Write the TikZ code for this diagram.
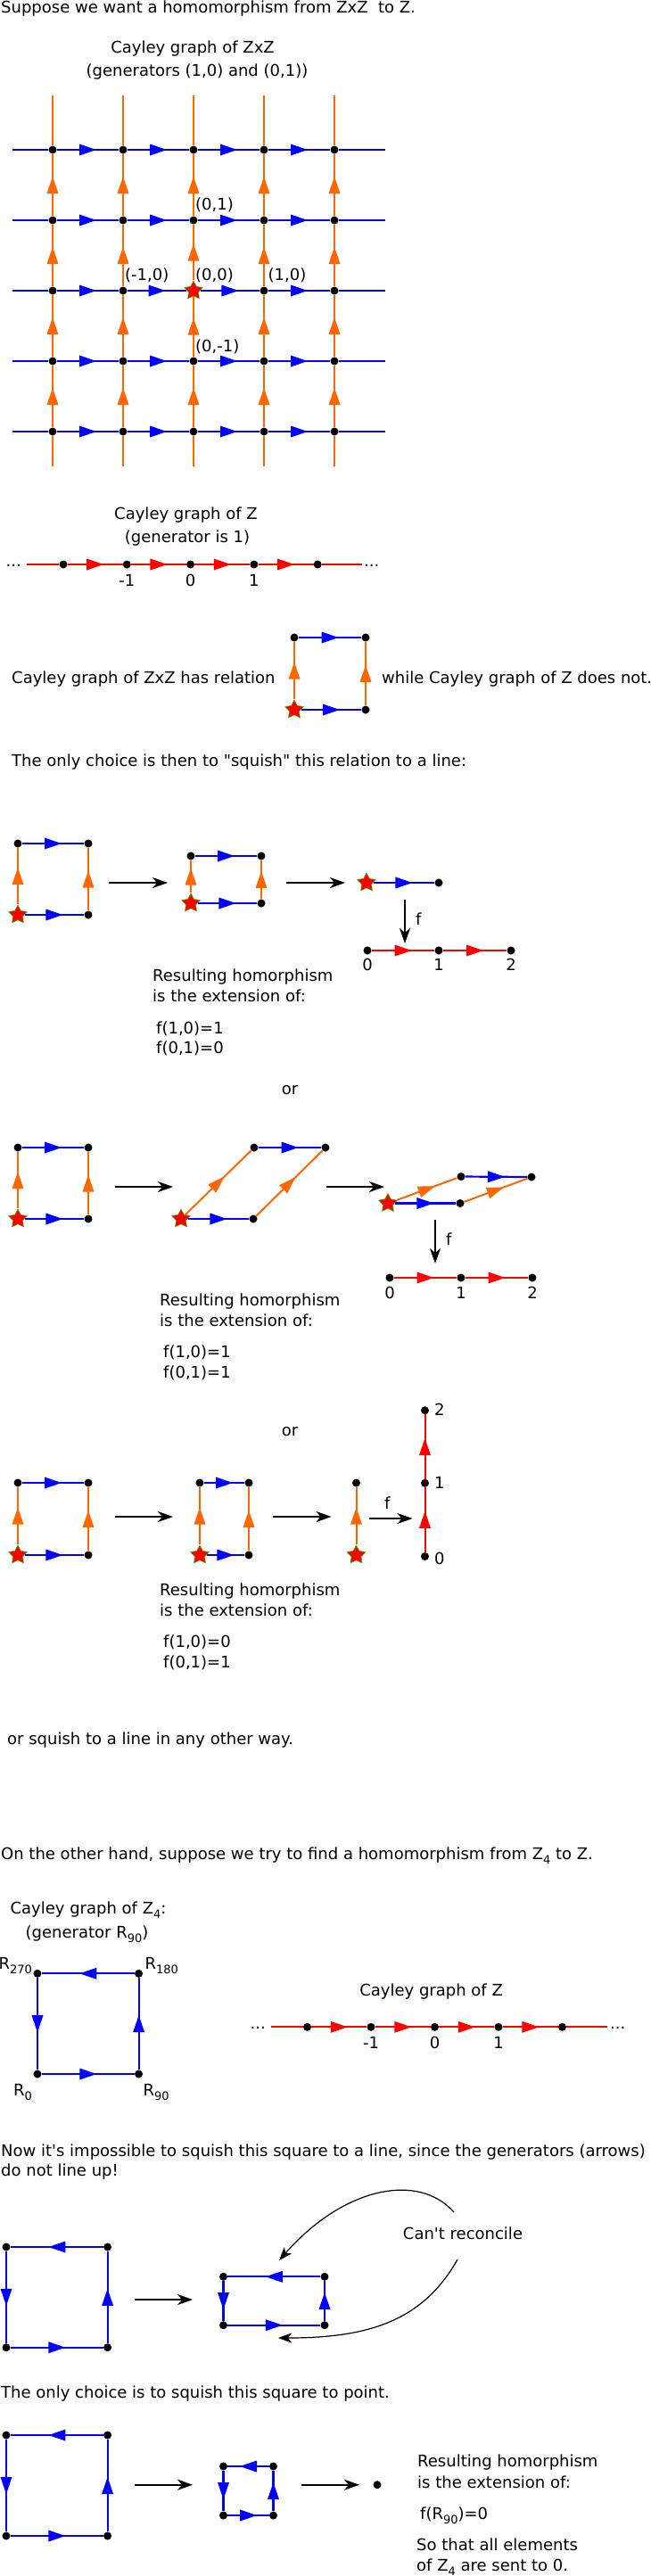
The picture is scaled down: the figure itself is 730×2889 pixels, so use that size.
\documentclass[tikz,border=0pt]{standalone}
\usepackage{fontspec}
\setmainfont{DejaVu Sans}[Ligatures=TeXOff]
\usetikzlibrary{arrows.meta,shapes.geometric,decorations.markings}
\definecolor{orng}{RGB}{255,102,0}
\newcommand{\lowidx}[1]{\raisebox{-5pt}{\fontsize{13}{13}\selectfont #1}}

\begin{document}
\begin{tikzpicture}[x=1pt,y=-1pt,font=\fontsize{18}{22}\selectfont]
\tikzset{dot/.style={circle,fill=black,inner sep=0pt,minimum size=9pt},
  startpt/.style={star,star points=5,star point ratio=1.9,fill=red,draw=green!85!black,line width=0.5pt,inner sep=0pt,minimum size=22pt},
  txt/.style={inner sep=0pt,anchor=base west},
  ctxt/.style={inner sep=0pt,anchor=base},
  midtri/.style={postaction={decorate},decoration={markings,mark=at position 0.5 with {\fill (9.5pt,0pt) -- (-9.5pt,6.5pt) -- (-9.5pt,-6.5pt) -- cycle;}}},
  bline/.style={blue,line width=2.2pt},
  oline/.style={orng,line width=2pt},
  rline/.style={red,line width=2pt},
  squish/.style={-{Stealth[length=17pt,width=12pt,inset=5pt]},line width=1.7pt},
  curvearr/.style={-{Stealth[length=15pt,width=11pt,inset=4pt]},line width=1.2pt}}
\useasboundingbox (0,0) rectangle (730,2889);

\node[txt] (intro) at (1,14.5) {Suppose we want a homomorphism from ZxZ~ to Z.};
\node[ctxt] (capzz) at (216,59.5) {Cayley graph of ZxZ};
\node[ctxt] (genzz) at (221,85) {(generators (1,0) and (0,1))};

\foreach \i in {0,...,4}
  \foreach \j in {0,...,4}{
    \ifnum\i\j=22
      \node[startpt] (g\i\j) at ({59+79*\i},{168+79*\j}) {};
    \else
      \node[dot] (g\i\j) at ({59+79*\i},{168+79*\j}) {};
    \fi
  }
\foreach \j in {0,...,4}{
  \coordinate (hl\j) at (14,{168+79*\j});
  \coordinate (hr\j) at (432,{168+79*\j});
  \draw[bline] (hl\j) -- (g0\j);
  \draw[bline] (g4\j) -- (hr\j);
  \foreach \i/\k in {0/1,1/2,2/3,3/4}
    \draw[bline,midtri] (g\i\j) -- (g\k\j);
}
\foreach \i in {0,...,4}{
  \coordinate (vt\i) at ({59+79*\i},107);
  \coordinate (vb\i) at ({59+79*\i},523);
  \draw[oline] (g\i0) -- (vt\i);
  \draw[oline] (vb\i) -- (g\i4);
  \foreach \j/\k in {0/1,1/2,2/3,3/4}
    \draw[oline,midtri] (g\i\k) -- (g\i\j);
}
\node[txt] (l01) at (219,235.5) {(0,1)};
\node[txt] (lm10) at (140,314) {(-1,0)};
\node[txt] (l00) at (219,314) {(0,0)};
\node[txt] (l10) at (300.5,314) {(1,0)};
\node[txt] (l0m1) at (219,394) {(0,-1)};

\node[ctxt] (capz) at (208.5,582.5) {Cayley graph of Z};
\node[ctxt] (genz) at (210,608.5) {(generator is 1)};
\foreach \i in {0,...,4}
  \node[dot] (z\i) at ({71+71.3*\i},633) {};
\coordinate (zl) at (30,633);
\coordinate (zr) at (406,633);
\draw[rline] (zl) -- (z0);
\draw[rline] (z4) -- (zr);
\foreach \i/\k in {0/1,1/2,2/3,3/4}
  \draw[rline,midtri] (z\i) -- (z\k);
\node[txt] (zdotsl) at (6.5,635) {...};
\node[txt] (zdotsr) at (408,635) {...};
\node[ctxt] (zlm1) at (142.3,657) {-1};
\node[ctxt] (zl0) at (213.6,657) {0};
\node[ctxt] (zl1) at (284.9,657) {1};

\node[txt] (hasrel) at (13,766.5) {Cayley graph of ZxZ has relation};
\node[txt] (notrel) at (428,766.5) {while Cayley graph of Z does not.};
\node[dot] (rn) at (330,715) {};
\node[dot] (rd) at (410,715) {};
\node[startpt] (ro) at (330,796) {};
\node[dot] (re) at (410,796) {};
\draw[bline,midtri] (ro) -- (re);
\draw[bline,midtri] (rn) -- (rd);
\draw[oline,midtri] (ro) -- (rn);
\draw[oline,midtri] (re) -- (rd);
\node[txt] (onlych) at (13,859) {The only choice is then to "squish" this relation to a line:};

\node[dot] (s1n) at (20,946) {};
\node[dot] (s1d) at (99,946) {};
\node[startpt] (s1o) at (20,1026) {};
\node[dot] (s1e) at (99,1026) {};
\draw[bline,midtri] (s1o) -- (s1e);
\draw[bline,midtri] (s1n) -- (s1d);
\draw[oline,midtri] (s1o) -- (s1n);
\draw[oline,midtri] (s1e) -- (s1d);
\coordinate (s1a) at (122,990);
\coordinate (s1b) at (188,990);
\draw[squish] (s1a) -- (s1b);
\node[dot] (t1n) at (214,960) {};
\node[dot] (t1d) at (293,960) {};
\node[startpt] (t1o) at (214,1013) {};
\node[dot] (t1e) at (293,1013) {};
\draw[bline,midtri] (t1o) -- (t1e);
\draw[bline,midtri] (t1n) -- (t1d);
\draw[oline,midtri] (t1o) -- (t1n);
\draw[oline,midtri] (t1e) -- (t1d);
\coordinate (t1a) at (321,990);
\coordinate (t1b) at (387,990);
\draw[squish] (t1a) -- (t1b);
\node[startpt] (u1o) at (411,990) {};
\node[dot] (u1e) at (492,990) {};
\draw[bline,midtri] (u1o) -- (u1e);
\coordinate (f1a) at (454,1009);
\coordinate (f1b) at (454,1058);
\draw[squish] (f1a) -- (f1b);
\node[txt] (f1) at (466,1037) {f};
\node[dot] (q10) at (412,1066) {};
\node[dot] (q11) at (492,1066) {};
\node[dot] (q12) at (573,1066) {};
\draw[rline,midtri] (q10) -- (q11);
\draw[rline,midtri] (q11) -- (q12);
\node[ctxt] (q1l0) at (412,1088) {0};
\node[ctxt] (q1l1) at (492,1088) {1};
\node[ctxt] (q1l2) at (573,1088) {2};
\node[txt] (res1) at (171,1100.5) {Resulting homorphism};
\node[txt] (ext1) at (171,1123.5) {is the extension of:};
\node[txt] (fa1) at (175,1159) {f(1,0)=1};
\node[txt] (fb1) at (175,1181.5) {f(0,1)=0};
\node[ctxt] (or1) at (325,1227) {or};

\node[dot] (s2n) at (20,1287) {};
\node[dot] (s2d) at (99,1287) {};
\node[startpt] (s2o) at (20,1367) {};
\node[dot] (s2e) at (99,1367) {};
\draw[bline,midtri] (s2o) -- (s2e);
\draw[bline,midtri] (s2n) -- (s2d);
\draw[oline,midtri] (s2o) -- (s2n);
\draw[oline,midtri] (s2e) -- (s2d);
\coordinate (s2a) at (128.5,1331);
\coordinate (s2b) at (194,1331);
\draw[squish] (s2a) -- (s2b);
\node[dot] (t2n) at (285,1287) {};
\node[dot] (t2d) at (365,1287) {};
\node[startpt] (t2o) at (203,1367) {};
\node[dot] (t2e) at (284,1367) {};
\draw[bline,midtri] (t2o) -- (t2e);
\draw[bline,midtri] (t2n) -- (t2d);
\draw[oline,midtri] (t2o) -- (t2n);
\draw[oline,midtri] (t2e) -- (t2d);
\coordinate (t2a) at (366,1331);
\coordinate (t2b) at (431,1331);
\draw[squish] (t2a) -- (t2b);
\node[dot] (u2n) at (517,1319.5) {};
\node[dot] (u2d) at (596,1320) {};
\node[startpt] (u2o) at (435,1349.5) {};
\node[dot] (u2e) at (516,1349.5) {};
\draw[bline,midtri] (u2o) -- (u2e);
\draw[bline,midtri] (u2n) -- (u2d);
\draw[oline,midtri] (u2o) -- (u2n);
\draw[oline,midtri] (u2e) -- (u2d);
\coordinate (f2a) at (488,1368);
\coordinate (f2b) at (488,1417);
\draw[squish] (f2a) -- (f2b);
\node[txt] (f2) at (500,1396) {f};
\node[dot] (q20) at (437,1433) {};
\node[dot] (q21) at (517,1433) {};
\node[dot] (q22) at (597,1433) {};
\draw[rline,midtri] (q20) -- (q21);
\draw[rline,midtri] (q21) -- (q22);
\node[ctxt] (q2l0) at (437,1456) {0};
\node[ctxt] (q2l1) at (517,1456) {1};
\node[ctxt] (q2l2) at (597,1456) {2};
\node[txt] (res2) at (179,1464) {Resulting homorphism};
\node[txt] (ext2) at (179,1487.5) {is the extension of:};
\node[txt] (fa2) at (183,1522) {f(1,0)=1};
\node[txt] (fb2) at (183,1545) {f(0,1)=1};
\node[ctxt] (or2) at (325,1610) {or};

\node[dot] (s3n) at (20,1663) {};
\node[dot] (s3d) at (99,1663) {};
\node[startpt] (s3o) at (20,1744) {};
\node[dot] (s3e) at (99,1744) {};
\draw[bline,midtri] (s3o) -- (s3e);
\draw[bline,midtri] (s3n) -- (s3d);
\draw[oline,midtri] (s3o) -- (s3n);
\draw[oline,midtri] (s3e) -- (s3d);
\coordinate (s3a) at (128.5,1701);
\coordinate (s3b) at (194,1701);
\draw[squish] (s3a) -- (s3b);
\node[dot] (t3n) at (224,1663) {};
\node[dot] (t3d) at (279,1663) {};
\node[startpt] (t3o) at (224,1744) {};
\node[dot] (t3e) at (279,1744) {};
\draw[bline,midtri] (t3o) -- (t3e);
\draw[bline,midtri] (t3n) -- (t3d);
\draw[oline,midtri] (t3o) -- (t3n);
\draw[oline,midtri] (t3e) -- (t3d);
\coordinate (t3a) at (306,1701);
\coordinate (t3b) at (371.5,1701);
\draw[squish] (t3a) -- (t3b);
\node[dot] (u3n) at (399.5,1663) {};
\node[startpt] (u3o) at (399.5,1744) {};
\draw[oline,midtri] (u3o) -- (u3n);
\coordinate (f3a) at (413.5,1703);
\coordinate (f3b) at (462.5,1703);
\draw[squish] (f3a) -- (f3b);
\node[txt] (f3) at (431,1692) {f};
\node[dot] (q30) at (476.5,1745.5) {};
\node[dot] (q31) at (476.5,1663.3) {};
\node[dot] (q32) at (476.5,1581.7) {};
\draw[rline,midtri] (q30) -- (q31);
\draw[rline,midtri] (q31) -- (q32);
\node[txt] (q3l0) at (487,1754) {0};
\node[txt] (q3l1) at (487,1669.5) {1};
\node[txt] (q3l2) at (487,1587) {2};
\node[txt] (res3) at (179,1789) {Resulting homorphism};
\node[txt] (ext3) at (179,1812) {is the extension of:};
\node[txt] (fa3) at (183,1847.5) {f(1,0)=0};
\node[txt] (fb3) at (183,1870.5) {f(0,1)=1};
\node[txt] (other) at (8,1956) {or squish to a line in any other way.};

\node[txt] (onhand) at (1,2085) {On the other hand, suppose we try to find a homomorphism from Z\lowidx{4} to Z.};
\node[ctxt] (capz4) at (99,2146.5) {Cayley graph of Z\lowidx{4}:};
\node[ctxt] (genz4) at (97.5,2173.5) {(generator R\lowidx{90})};
\node[dot] (k3) at (42,2213.3) {};
\node[dot] (k2) at (155.6,2213.3) {};
\node[dot] (k0) at (42,2326) {};
\node[dot] (k1) at (155.6,2326) {};
\draw[bline,midtri] (k0) -- (k1);
\draw[bline,midtri] (k1) -- (k2);
\draw[bline,midtri] (k2) -- (k3);
\draw[bline,midtri] (k3) -- (k0);
\node[txt] (kl3) at (-1.5,2208.5) {R\lowidx{270}};
\node[txt] (kl2) at (162.5,2208.5) {R\lowidx{180}};
\node[txt] (kl0) at (15,2350) {R\lowidx{0}};
\node[txt] (kl1) at (160.5,2350) {R\lowidx{90}};

\node[ctxt] (capz2) at (483.6,2238.3) {Cayley graph of Z};
\foreach \i in {0,...,4}
  \node[dot] (w\i) at ({344.5+71.5*\i},2273.3) {};
\coordinate (wl) at (303.7,2273.3);
\coordinate (wr) at (681.3,2273.3);
\draw[rline] (wl) -- (w0);
\draw[rline] (w4) -- (wr);
\foreach \i/\k in {0/1,1/2,2/3,3/4}
  \draw[rline,midtri] (w\i) -- (w\k);
\node[txt] (wdotsl) at (280.5,2275.5) {...};
\node[txt] (wdotsr) at (684,2275.5) {...};
\node[ctxt] (wlm1) at (416,2297) {-1};
\node[ctxt] (wl0) at (487.5,2297) {0};
\node[ctxt] (wl1) at (559,2297) {1};

\node[txt] (nowimp) at (1,2418) {Now it's impossible to squish this square to a line, since the generators (arrows)};
\node[txt] (lineup) at (1,2440) {do not line up!};

\node[dot] (m3) at (7,2520) {};
\node[dot] (m2) at (120.6,2520) {};
\node[dot] (m0) at (7,2632.7) {};
\node[dot] (m1) at (120.6,2632.7) {};
\draw[bline,midtri] (m0) -- (m1);
\draw[bline,midtri] (m1) -- (m2);
\draw[bline,midtri] (m2) -- (m3);
\draw[bline,midtri] (m3) -- (m0);
\coordinate (ma) at (151,2579);
\coordinate (mb) at (216,2579);
\draw[squish] (ma) -- (mb);
\node[dot] (p3) at (250.5,2553.3) {};
\node[dot] (p2) at (364,2553.3) {};
\node[dot] (p0) at (250.5,2607.7) {};
\node[dot] (p1) at (364,2607.7) {};
\draw[bline,midtri] (p0) -- (p1);
\draw[bline,midtri] (p1) -- (p2);
\draw[bline,midtri] (p2) -- (p3);
\draw[bline,midtri] (p3) -- (p0);
\node[ctxt] (cant) at (519,2511) {Can't reconcile};
\coordinate (cr1) at (509,2481);
\coordinate (cr2) at (313,2535);
\coordinate (cr3) at (513,2534);
\coordinate (cr4) at (312,2622);
\draw[curvearr] (cr1) .. controls (469.4,2436) and (385.6,2452.5) .. (cr2);
\draw[curvearr] (cr3) .. controls (473.8,2603.6) and (412,2622) .. (cr4);

\node[txt] (onlypt) at (1,2689.5) {The only choice is to squish this square to point.};
\node[dot] (n3) at (7,2731) {};
\node[dot] (n2) at (120.6,2731) {};
\node[dot] (n0) at (7,2844) {};
\node[dot] (n1) at (120.6,2844) {};
\draw[bline,midtri] (n0) -- (n1);
\draw[bline,midtri] (n1) -- (n2);
\draw[bline,midtri] (n2) -- (n3);
\draw[bline,midtri] (n3) -- (n0);
\coordinate (na) at (151,2786.7);
\coordinate (nb) at (216,2786.7);
\draw[squish] (na) -- (nb);
\node[dot] (h3) at (250.5,2766) {};
\node[dot] (h2) at (306.5,2766) {};
\node[dot] (h0) at (250.5,2821) {};
\node[dot] (h1) at (306.5,2821) {};
\draw[bline,midtri] (h0) -- (h1);
\draw[bline,midtri] (h1) -- (h2);
\draw[bline,midtri] (h2) -- (h3);
\draw[bline,midtri] (h3) -- (h0);
\coordinate (ha) at (338,2786.7);
\coordinate (hb) at (403,2786.7);
\draw[squish] (ha) -- (hb);
\node[dot] (pt) at (423,2786.7) {};
\node[txt] (res4) at (468,2766.5) {Resulting homorphism};
\node[txt] (ext4) at (468,2790) {is the extension of:};
\node[txt] (fr4) at (471,2825.5) {f(R\lowidx{90})=0};
\node[txt] (all4) at (467,2860.5) {So that all elements};
\node[txt] (sent4) at (467,2883.5) {of Z\lowidx{4} are sent to 0.};
\end{tikzpicture}
\end{document}
